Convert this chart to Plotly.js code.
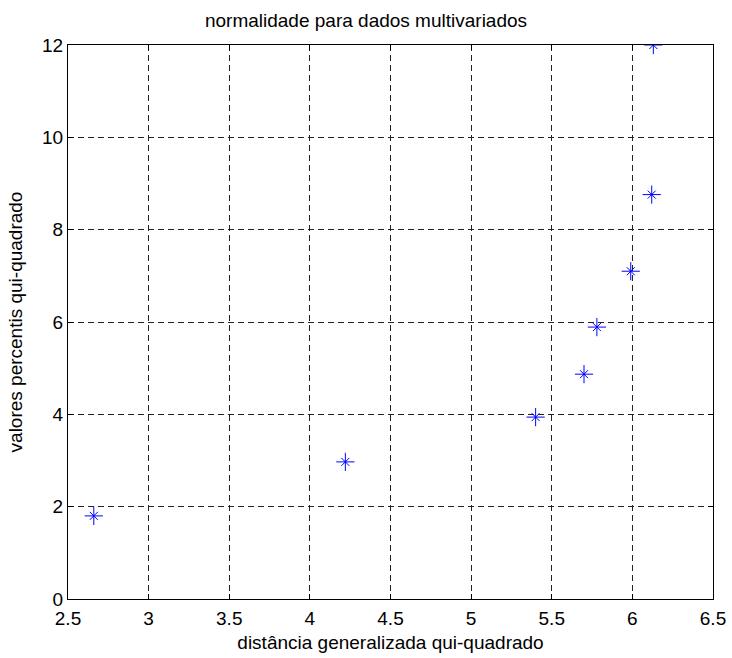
<!DOCTYPE html>
<html>
<head>
<meta charset="utf-8">
<script src="https://cdn.plot.ly/plotly-3.0.1.min.js"></script>
<style>html,body{margin:0;padding:0;background:#fff;}#chart{width:732px;height:658px;}</style>
</head>
<body>
<div id="chart"></div>
<script>
var distancia = [2.66, 4.22, 5.40, 5.70, 5.78, 5.99, 6.12, 6.13];
var percentis = [1.80, 2.97, 3.94, 4.87, 5.89, 7.10, 8.76, 12.00];
var xTicks = [2.5, 3, 3.5, 4, 4.5, 5, 5.5, 6, 6.5];
var yTicks = [0, 2, 4, 6, 8, 10, 12];

var fontFam = '"Liberation Sans", Arial, sans-serif';
var markerColor = '#0000ff';

var traces = [
  {x: distancia, y: percentis, type: 'scatter', mode: 'markers', hoverinfo: 'x+y',
   marker: {symbol: 'cross-thin-open', size: 13, color: markerColor, line: {color: markerColor, width: 1}}},
  {x: distancia, y: percentis, type: 'scatter', mode: 'markers', hoverinfo: 'skip',
   marker: {symbol: 'x-thin-open', size: 8, color: markerColor, line: {color: markerColor, width: 1}}}
];

var axisCommon = {
  showline: true, linecolor: '#000', linewidth: 1, mirror: 'allticks',
  ticks: 'inside', ticklen: 5, tickcolor: '#000', tickwidth: 1,
  showgrid: true, gridcolor: '#222', gridwidth: 1, griddash: '6px,4px',
  zeroline: false, tickfont: {family: fontFam, size: 19, color: '#000'}
};

var layout = {
  width: 732, height: 658,
  margin: {l: 68, r: 19, t: 45, b: 59},
  paper_bgcolor: '#fff', plot_bgcolor: '#fff',
  showlegend: false,
  font: {family: fontFam, color: '#000'},
  title: {text: 'normalidade para dados multivariados', font: {family: fontFam, size: 19, color: '#000'},
          x: 0.5, xanchor: 'center', y: 0.9696, yanchor: 'middle'},
  xaxis: Object.assign({}, axisCommon, {
    range: [2.5, 6.5], tickvals: xTicks, ticktext: xTicks.map(String), ticklabelstandoff: 2,
    title: {text: 'distância generalizada qui-quadrado', font: {family: fontFam, size: 19, color: '#000'}, standoff: 7}
  }),
  yaxis: Object.assign({}, axisCommon, {
    range: [0, 12], tickvals: yTicks, ticktext: yTicks.map(String), ticklabelstandoff: 0,
    title: {text: 'valores percentis qui-quadrado', font: {family: fontFam, size: 19, color: '#000'}, standoff: 14}
  })
};

Plotly.newPlot('chart', traces, layout, {displayModeBar: false, staticPlot: true});
</script>
</body>
</html>
